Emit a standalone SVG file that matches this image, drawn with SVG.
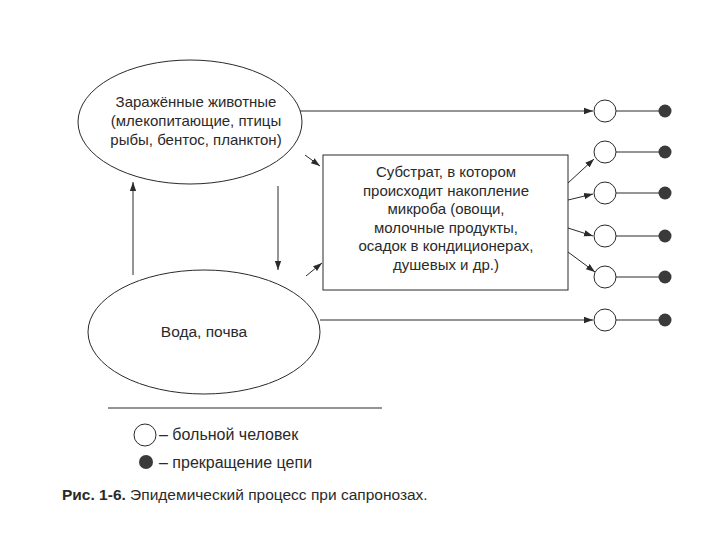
<svg xmlns="http://www.w3.org/2000/svg" width="720" height="540" viewBox="0 0 720 540">
<defs>
<style>
.sh{fill:none;stroke:#2a2a2a;stroke-width:1}
.t{font-family:"Liberation Sans",Arial,sans-serif;font-size:15px;fill:#2a2a2a}
.c{text-anchor:middle}
.ln{fill:none;stroke:#2a2a2a;stroke-width:1;marker-end:url(#ah)}
.pl{fill:none;stroke:#2a2a2a;stroke-width:1}
.op{fill:#fff;stroke:#2a2a2a;stroke-width:1}
.dot{fill:#3a3a3a}
</style>
<marker id="ah" viewBox="0 0 10 10" refX="10" refY="5" markerWidth="9" markerHeight="9" markerUnits="userSpaceOnUse" orient="auto">
<path d="M0,1.5 L10,5 L0,8.5 Z" fill="#2a2a2a"/>
</marker>
</defs>
<rect width="720" height="540" fill="#fff"/>

<g id="animals">
<ellipse class="sh" cx="190" cy="122" rx="112" ry="62"/>
<text class="t c" x="196" y="107">Заражённые животные</text>
<text class="t c" x="196" y="126">(млекопитающие, птицы</text>
<text class="t c" x="196" y="145">рыбы, бентос, планктон)</text>
</g>

<g id="water">
<ellipse class="sh" cx="204" cy="332" rx="116" ry="62"/>
<text class="t c" x="204" y="337" style="font-size:15.5px">Вода, почва</text>
</g>

<g id="substrate">
<rect class="sh" x="323" y="155" width="245" height="135"/>
<text class="t c" x="446" y="177">Субстрат, в котором</text>
<text class="t c" x="446" y="196">происходит накопление</text>
<text class="t c" x="446" y="214">микроба (овощи,</text>
<text class="t c" x="446" y="233">молочные продукты,</text>
<text class="t c" x="446" y="251">осадок в кондиционерах,</text>
<text class="t c" x="446" y="270">душевых и др.)</text>
</g>

<g id="connectors">
<line class="ln" x1="300" y1="111" x2="593" y2="111"/>
<line class="ln" x1="305" y1="155" x2="320" y2="166"/>
<line class="ln" x1="133" y1="275" x2="133" y2="182"/>
<line class="ln" x1="278" y1="186" x2="278" y2="270"/>
<line class="ln" x1="306" y1="276" x2="322" y2="263"/>
<line class="ln" x1="320" y1="320" x2="593" y2="320"/>
<line class="ln" x1="568" y1="183" x2="594" y2="159"/>
<line class="ln" x1="568" y1="200" x2="593" y2="194"/>
<line class="ln" x1="568" y1="228" x2="593" y2="236"/>
<line class="ln" x1="568" y1="252" x2="595" y2="272"/>
<line class="pl" x1="616" y1="111" x2="660" y2="111"/>
<line class="pl" x1="616" y1="152" x2="660" y2="152"/>
<line class="pl" x1="616" y1="193" x2="660" y2="193"/>
<line class="pl" x1="616" y1="236" x2="660" y2="236"/>
<line class="pl" x1="616" y1="277" x2="660" y2="277"/>
<line class="pl" x1="616" y1="320" x2="660" y2="320"/>
</g>

<g id="patients">
<circle class="op" cx="605" cy="111" r="11"/>
<circle class="op" cx="605" cy="152" r="11"/>
<circle class="op" cx="605" cy="193" r="11"/>
<circle class="op" cx="605" cy="236" r="11"/>
<circle class="op" cx="605" cy="277" r="11"/>
<circle class="op" cx="605" cy="320" r="11"/>
</g>

<g id="chain-ends">
<circle class="dot" cx="665" cy="111" r="6.5"/>
<circle class="dot" cx="665" cy="152" r="6.5"/>
<circle class="dot" cx="665" cy="193" r="6.5"/>
<circle class="dot" cx="665" cy="236" r="6.5"/>
<circle class="dot" cx="665" cy="277" r="6.5"/>
<circle class="dot" cx="665" cy="320" r="6.5"/>
</g>

<g id="legend">
<line class="pl" x1="108" y1="408" x2="382" y2="408"/>
<circle class="op" cx="145" cy="435" r="11"/>
<text class="t" x="159" y="440" style="font-size:16px">– больной человек</text>
<circle class="dot" cx="146" cy="462" r="7"/>
<text class="t" x="159" y="468" style="font-size:16px">– прекращение цепи</text>
</g>

<g id="caption">
<text class="t" x="62" y="500" style="font-size:15.5px"><tspan font-weight="bold">Рис. 1-6.</tspan> Эпидемический процесс при сапронозах.</text>
</g>
</svg>
